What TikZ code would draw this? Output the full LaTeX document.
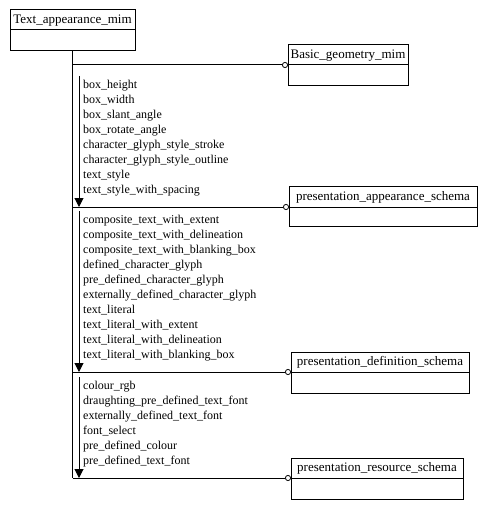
\documentclass[tikz,border=0pt]{standalone}
\usepackage{fontspec}
\setmainfont{Liberation Serif}
\usetikzlibrary{arrows.meta,positioning}
\tikzset{
  entity/.style={draw,line width=1bp,outer sep=0pt,anchor=north west,minimum height=20bp,inner xsep=2bp,inner ysep=0pt,text height=10bp,text depth=2.5bp,font=\fontsize{13bp}{15bp}\selectfont},
  entbody/.style={draw,line width=1bp,outer sep=0pt,inner sep=0pt,below=0pt of #1},
  items/.style={anchor=north west,align=left,inner xsep=4bp,inner ysep=0pt,font=\fontsize{12bp}{15bp}\selectfont},
  link/.style={-{Circle[open,length=6bp,line width=0.8bp]},line width=1bp},
  feed/.style={-{Triangle[length=9bp,width=9bp]},line width=1bp},
  trunk/.style={line width=1bp}
}
\begin{document}
\begin{tikzpicture}[x=1bp,y=-1bp]
  \useasboundingbox (0,0) rectangle (487,509);
  % schema boxes
  \node[entity,minimum width=125bp] (tam) at (10,10) {Text\_appearance\_mim};
  \node[entbody=tam,minimum width=125bp,minimum height=21bp] (tamb) {};
  \node[entity,minimum width=120bp] (geo) at (288,45) {Basic\_geometry\_mim};
  \node[entbody=geo,minimum width=120bp,minimum height=21bp] (geob) {};
  \node[entity,minimum width=188bp] (app) at (289,187) {presentation\_appearance\_schema};
  \node[entbody=app,minimum width=188bp,minimum height=19bp] (appb) {};
  \node[entity,minimum width=178bp] (dfn) at (291,352) {presentation\_definition\_schema};
  \node[entbody=dfn,minimum width=178bp,minimum height=21bp] (dfnb) {};
  \node[entity,minimum width=172bp] (res) at (291,458) {presentation\_resource\_schema};
  \node[entbody=res,minimum width=172bp,minimum height=21bp] (resb) {};
  % reference lists
  \node[items] (lst1) at (79,80) {box\_height\\box\_width\\box\_slant\_angle\\box\_rotate\_angle\\character\_glyph\_style\_stroke\\character\_glyph\_style\_outline\\text\_style\\text\_style\_with\_spacing};
  \node[items] (lst2) at (79,215) {composite\_text\_with\_extent\\composite\_text\_with\_delineation\\composite\_text\_with\_blanking\_box\\defined\_character\_glyph\\pre\_defined\_character\_glyph\\externally\_defined\_character\_glyph\\text\_literal\\text\_literal\_with\_extent\\text\_literal\_with\_delineation\\text\_literal\_with\_blanking\_box};
  \node[items] (lst3) at (79,381) {colour\_rgb\\draughting\_pre\_defined\_text\_font\\externally\_defined\_text\_font\\font\_select\\pre\_defined\_colour\\pre\_defined\_text\_font};
  % connectors
  \draw[trunk] (tamb.south) -- (tamb.south |- res.south west);
  \draw[link] (tamb.south |- geo.south west) -- (geo.south west);
  \draw[link] (tamb.south |- app.south west) -- (app.south west);
  \draw[link] (tamb.south |- dfn.south west) -- (dfn.south west);
  \draw[link] (tamb.south |- res.south west) -- (res.south west);
  \draw[feed] ([yshift=4bp]lst1.north west) -- (lst1.north west |- app.south west);
  \draw[feed] ([yshift=4bp]lst2.north west) -- (lst2.north west |- dfn.south west);
  \draw[feed] ([yshift=4bp]lst3.north west) -- (lst3.north west |- res.south west);
\end{tikzpicture}
\end{document}
